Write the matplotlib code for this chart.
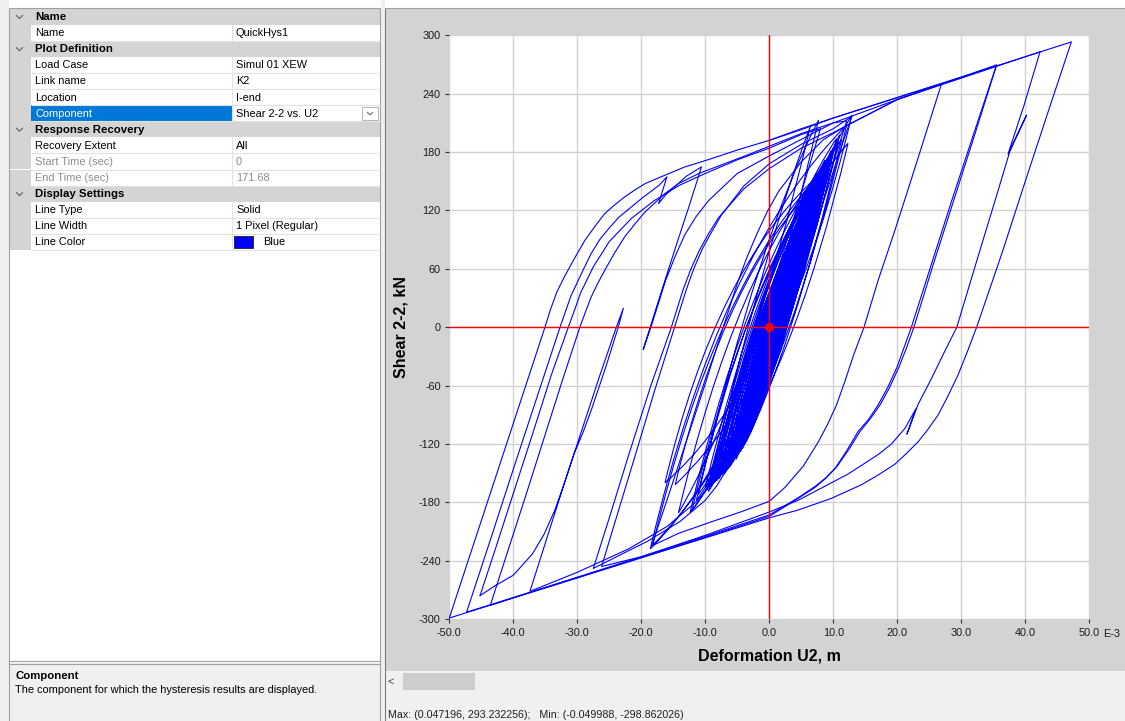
import matplotlib
matplotlib.use("Agg")
import matplotlib.pyplot as plt
from matplotlib.patches import Rectangle, PathPatch
from matplotlib.path import Path

plt.rcParams["font.family"] = ["Liberation Sans", "DejaVu Sans"]

W, H = 1125, 721

# ---- property grid (left panel) ----
prop_rows = [
    ("cat", "Name", ""),
    ("item", "Name", "QuickHys1"),
    ("cat", "Plot Definition", ""),
    ("item", "Load Case", "Simul 01 XEW"),
    ("item", "Link name", "K2"),
    ("item", "Location", "I-end"),
    ("sel", "Component", "Shear 2-2 vs. U2"),
    ("cat", "Response Recovery", ""),
    ("item", "Recovery Extent", "All"),
    ("off", "Start Time (sec)", "0"),
    ("off", "End Time (sec)", "171.68"),
    ("cat", "Display Settings", ""),
    ("item", "Line Type", "Solid"),
    ("item", "Line Width", "1 Pixel (Regular)"),
    ("item", "Line Color", "Blue"),
]
help_title = "Component"
help_text = "The component for which the hysteresis results are displayed."
status_text = "Max: (0.047196, 293.232256);   Min: (-0.049988, -298.862026)"

# ---- axes ----
x_ticks = [-50, -40, -30, -20, -10, 0, 10, 20, 30, 40, 50]
x_tick_labels = ["-50.0", "-40.0", "-30.0", "-20.0", "-10.0", "0.0",
                 "10.0", "20.0", "30.0", "40.0", "50.0"]
y_ticks = [-300, -240, -180, -120, -60, 0, 60, 120, 180, 240, 300]
x_label = "Deformation U2, m"
y_label = "Shear 2-2, kN"
x_scale_note = "E-3"

# ---- hysteresis path, deformation in 1e-3 m, shear in kN ----
# big excursions, read off the picture branch by branch
seg_a = [(0, 192), (5, 204), (10, 215), (20, 236), (30, 257), (40, 278), (47.2, 293.2),
         (43.5, 220), (40, 150), (36.3, 75), (32.4, 0), (30.9, -26), (29.5, -49),
         (27.9, -71), (26.4, -90), (24.8, -105), (23.3, -117.5), (21.4, -130),
         (19.6, -141), (17, -152), (14.4, -162), (9.7, -176), (4.5, -188), (0, -196),
         (-10, -216.6), (-20, -237), (-30, -257.8), (-40, -278.4), (-50, -299)]
seg_b = [(-50, -299), (-46, -219), (-42, -139), (-38.5, -69), (-35.05, 0), (-34.2, 18),
         (-33.2, 36), (-32, 52), (-30.5, 70), (-28.8, 89.4), (-27.2, 104), (-25.7, 116.8),
         (-24.1, 126), (-22.6, 133.9), (-21, 141), (-19.4, 147.6), (-16.3, 156.2),
         (-13.2, 164.7), (-9, 173.3), (-4.8, 182.5), (0, 192), (5, 203), (10, 215),
         (20, 236), (30, 257), (35.5, 269.5)]
seg_c = [(35.5, 269.5), (32, 200), (28.5, 130), (25.2, 62), (22.2, 0), (21, -22),
         (19.9, -42), (18.5, -62), (17, -80), (15.5, -95), (13.9, -107), (12.1, -127),
         (10.3, -145), (8.7, -156), (7.1, -165), (4.5, -176), (0, -194.5), (-10, -216),
         (-20, -237), (-30, -257.5), (-40, -278), (-47.3, -293)]
seg_d = [(-47.3, -293), (-43.5, -217), (-40, -146), (-36.3, -72), (-32.7, 0), (-31.8, 17),
         (-31, 32), (-29, 60), (-27.8, 76), (-26.5, 90), (-25, 102), (-23.5, 113), (-20, 132),
         (-17.2, 146), (-16, 154.5), (-17.3, 127), (-16.2, 136), (-15, 143), (-13, 155),
         (-10.6, 164.7), (-12.5, 125), (-14.5, 85), (-16.6, 42), (-18.6, 0), (-19.7, -23),
         (-18.4, 2), (-16.2, 48), (-14.7, 73), (-13.2, 95), (-11.4, 114), (-9.5, 130),
         (-5, 158), (0, 176), (5, 193), (10, 210), (20, 234), (26.9, 250)]
seg_e = [(26.9, 250), (24.5, 200), (22, 148), (19.5, 97), (17, 48), (14.8, 0), (13.1, -30),
         (11.8, -56), (10.5, -80), (9.1, -100), (7.7, -117.5), (5.3, -143), (2.4, -165),
         (0, -179), (-4.5, -190), (-9, -200), (-14.2, -212), (-18.4, -225), (-16, -178),
         (-13, -118), (-10, -58), (-7.2, 0), (-5, 45), (-3.6, 70), (-2, 95), (-0.3, 119),
         (1.5, 140), (5, 170), (8.5, 193), (12, 207), (20, 234), (35.5, 269)]
seg_f = [(35.5, 269), (32.2, 200), (28.8, 130), (25.5, 62), (22.6, 0), (21.4, -22),
         (20.2, -42), (18.8, -62), (17.3, -80), (15.8, -94), (14.2, -107), (12.4, -126),
         (10.6, -143), (9, -154), (7.3, -163), (4.6, -175), (0, -193), (-10, -215),
         (-20, -236), (-26.2, -246), (-24, -198), (-21, -133), (-18, -67), (-14.8, 0),
         (-13, 38), (-11.8, 60), (-10.5, 80), (-9, 98), (-7.5, 115), (-4, 145), (0, 168),
         (5, 188), (10, 204), (12.9, 216.8)]
seg_g = [(12.9, 216.8), (11.5, 190), (9, 140), (6.5, 90), (4, 40), (2.1, 0), (-0.5, -55),
         (-3.5, -105), (-5, -127), (-6.5, -145), (-8.2, -163), (-10, -178), (-14, -200),
         (-19, -220), (-27.5, -248), (-25, -196), (-22, -132), (-18.5, -60), (-15.3, 0),
         (-13.5, 38), (-12.3, 59), (-11, 78), (-9.5, 96), (-8, 112), (-4, 142), (0, 163),
         (5, 184), (10, 200), (20, 234), (30, 256), (42.3, 283)]
seg_h = [(42.3, 283), (39.8, 228), (37.3, 178), (40.2, 218), (37.6, 181), (35.5, 135),
         (32.5, 70), (29.3, 0), (27.4, -25), (25.4, -52), (23.2, -80), (21.5, -110),
         (22.9, -84), (21.2, -104), (19.1, -120), (17, -131), (14.9, -140), (12.3, -151),
         (9.7, -160), (4.5, -178), (0, -190), (-10, -214), (-20, -236), (-30, -257),
         (-40, -278), (-43.6, -286)]
seg_i = [(-43.6, -286), (-40.8, -229), (-37.8, -168), (-35, -110), (-32.2, -52),
         (-29.6, 0), (-28.7, 16), (-27.8, 31.5), (-26.8, 45), (-25.7, 58.6), (-24.2, 76),
         (-22.6, 92.8), (-21, 106), (-19.4, 118.5), (-16.3, 137.3), (-14.2, 147.6),
         (-11, 158), (-7, 168), (-3, 178), (0, 186), (5, 199), (10, 210), (12.1, 212),
         (10.8, 185), (8.5, 140), (6, 90), (3.5, 40), (1.5, 0), (-1, -50), (-4, -100),
         (-5.7, -124), (-7.5, -145), (-9.5, -164), (-11.5, -180), (-16, -205),
         (-22, -228), (-30, -252), (-37.4, -271.6), (-35, -222), (-32, -160), (-29, -100),
         (-26.5, -50), (-23.9, 0), (-22.8, 19.5), (-23.6, 0), (-25.5, -40), (-27.8, -85),
         (-29.1, -108), (-30.5, -130), (-32, -160), (-33.5, -188), (-35.2, -213),
         (-37, -233), (-40, -255), (-42.9, -266), (-45.2, -276)]
seg_j = [(-45.2, -276), (-42.8, -228), (-40, -171), (-37, -110), (-34, -48), (-31.4, 0),
         (-30.4, 18), (-29.5, 35), (-27.5, 62), (-25, 88), (-21.5, 112), (-18, 130),
         (-14, 146), (-10, 158), (-5, 172), (0, 184), (5, 198), (8, 204), (6, 160),
         (3.5, 105), (1, 52), (-1.5, 0), (-4, -55), (-6, -105), (-7.6, -150)]

# dense central band: turning points of the small cycles (lower, upper, lower, ...)
core_tips = [
    (-7.6, -150), (6.5, 128), (-5.4, -135), (8.2, 154), (-6.4, -145), (5, 105),
    (-2.5, -95), (9.2, 161), (-7.4, -152), (7, 135), (-4.5, -128), (9.7, 182),
    (-8.5, -159), (4.2, 92), (-6, -142), (8.7, 172), (-9.5, -169), (10.5, 194),
    (-3, -110), (6, 120), (-11.1, -172), (7.7, 213), (-7, -150), (7.5, 145),
    (-12.1, -189), (12.3, 189), (-9.5, -165), (6.4, 206), (-14.2, -191), (9, 168),
    (-8, -156), (5.5, 118), (-16.3, -160), (8, 158), (-4, -120), (11, 198),
    (-6.8, -147), (6.8, 132), (-10, -165), (9.5, 176), (-2, -85), (5.3, 110),
    (-5.8, -140), (7.2, 140), (-9, -162), (10.2, 185), (-4.8, -130), (4.8, 98),
    (-7.8, -155), (8.5, 165), (-3.4, -112), (6.2, 125), (-6.2, -144), (12.9, 218),
    (-14.7, -162), (7.9, 150), (-5.2, -136), (9.9, 180), (-8.8, -160), (5.8, 118),
    (-18.6, -228), (12.1, 208), (-7.2, -148), (8.4, 160), (-12.4, -191), (11.3, 193),
    (-4.2, -125), (7.4, 150), (-6.6, -146), (9.1, 172), (-3.6, -118), (6.6, 138),
    (-8.2, -158), (8.9, 168), (-5, -132), (10.8, 190), (-18.2, -224), (8.6, 162),
    (-6.9, -150), (7.6, 148), (-2.8, -105), (5.9, 128), (-9.8, -168), (9.4, 175),
    (-4.6, -128), (8, 156), (-7.9, -156), (6.9, 140), (-5.6, -138), (9.6, 178),
    (-11.4, -178), (7.3, 146), (-3.9, -120), (8.3, 160), (-6.5, -146), (10, 184),
    (-8.6, -160), (6.1, 122), (-4.4, -126), (7.8, 152), (-7.3, -151), (9.3, 170),
    (-5.3, -134), (6.7, 130), (-9.2, -164), (8.1, 158), (-3.2, -112), (5.6, 118),
    (0, 0),
]
segments = [seg_a, seg_b, seg_c, seg_d, seg_e, seg_f, seg_g, seg_h, seg_i, seg_j]
current_point = (0, 0)

# stiffness used only to bend the small-cycle branches (line style)
K_INIT = 28.0

# ---------------------------------------------------------------
fig = plt.figure(figsize=(W / 100, H / 100), dpi=100)
fig.patch.set_facecolor("white")

# full-figure layer in pixel coordinates for the window chrome
ui = fig.add_axes([0, 0, 1, 1], zorder=0)
ui.set_xlim(0, W)
ui.set_ylim(H, 0)
ui.axis("off")


def box(x0, y0, x1, y1, fc, ec="none", lw=0.0, z=1):
    ui.add_patch(Rectangle((x0, y0), x1 - x0, y1 - y0, facecolor=fc,
                           edgecolor=ec, linewidth=lw, zorder=z))


def hline(x0, x1, y, c, lw=0.8, z=2):
    ui.plot([x0, x1], [y, y], color=c, lw=lw, zorder=z, solid_capstyle="butt")


def vline(x, y0, y1, c, lw=0.8, z=2):
    ui.plot([x, x], [y0, y1], color=c, lw=lw, zorder=z, solid_capstyle="butt")


def chevron(cx, cy, c="#606060", s=3.0):
    ui.plot([cx - s, cx, cx + s], [cy - s / 2, cy + s / 2, cy - s / 2],
            color=c, lw=0.8, zorder=4)


# left panel
box(0, 0, 9, H, "#f0f0f0")
vline(8.5, 8, H, "#a0a0a0")
box(9, 8, 380, 662, "white")
grey = "#d4d4d4"
row_h = 16.1
top = 8.5
for i, (kind, label, value) in enumerate(prop_rows):
    y0 = top + row_h * i
    y1 = y0 + row_h
    yc = (y0 + y1) / 2 + 0.5
    if kind == "cat":
        box(9, y0, 380, y1, grey)
        chevron(19.5, yc)
        ui.text(35, yc, label, fontsize=8.2, fontweight="bold", color="black",
                va="center", ha="left", zorder=5)
        continue
    box(9, y0, 31, y1, grey)
    lab_bg = "#0078d7" if kind == "sel" else "white"
    box(31, y0, 232, y1, lab_bg)
    box(232, y0, 380, y1, "white")
    hline(31, 380, y1, "#e2e2e2", lw=0.8, z=3)
    vline(232, y0, y1, "#e2e2e2", lw=0.8, z=3)
    if kind == "sel":
        c_lab, c_val = "white", "black"
    elif kind == "off":
        c_lab, c_val = "#8d8d8d", "#8d8d8d"
    else:
        c_lab, c_val = "black", "black"
    ui.text(35, yc, label, fontsize=7.9, color=c_lab, va="center", ha="left", zorder=5)
    vx = 236
    if label == "Line Color":
        box(234, y0 + 2.5, 253, y1 - 2.5, "#0000ff", ec="#202020", lw=0.6, z=4)
        vx = 263
    ui.text(vx, yc, value, fontsize=7.9, color=c_val, va="center", ha="left", zorder=5)
    if kind == "sel":
        box(362, y0 + 1.5, 378, y1 - 1.0, "white", ec="#b4b4b4", lw=0.7, z=4)
        chevron(370, yc, c="#707070", s=2.5)

vline(380, 8, H, "#a0a0a0")
hline(9, 380, 8.3, "#a0a0a0")
box(380.5, 0, 385, H, "#f0f0f0")

# help box
hline(9, 380, 661, "#a0a0a0")
box(9, 663, 380, H, "#f0f0f0")
hline(9, 380, 664, "#a0a0a0")
ui.text(15, 676, help_title, fontsize=8.2, fontweight="bold", va="center", ha="left", zorder=5)
ui.text(15, 690, help_text, fontsize=7.9, va="center", ha="left", zorder=5)

# chart panel
box(385, 8, W, 671, "#d3d3d3")
box(385, 671, W, H, "#f0f0f0")
box(403, 673, 475, 690, "#cdcdcd")
ui.text(391, 681.5, "<", fontsize=8, color="#404040", va="center", ha="center", zorder=5)
vline(385, 8, H, "#7a7a7a")
hline(385, W, 8, "#a0a0a0")
ui.text(388, 715, status_text, fontsize=7.7, color="#202020", va="center", ha="left", zorder=5)

ui.text(769, 656, x_label, fontsize=11.5, fontweight="bold", va="center", ha="center", zorder=5)
ui.text(401, 327, y_label, fontsize=11.5, fontweight="bold", va="center", ha="center",
        rotation=90, zorder=5)
ui.text(1103, 634, x_scale_note, fontsize=7.8, color="#1a1a1a", va="center", ha="left", zorder=5)

# hysteresis plot
ax = fig.add_axes([449.3 / W, 1 - 619 / H, 640 / W, 583.7 / H], zorder=2)
ax.set_facecolor("white")
for s in ax.spines.values():
    s.set_visible(False)
ax.set_xlim(-50, 50)
ax.set_ylim(-300, 300)
ax.set_xticks(x_ticks)
ax.set_xticklabels(x_tick_labels)
ax.set_yticks(y_ticks)
ax.set_yticklabels([str(v) for v in y_ticks])
ax.tick_params(direction="out", length=3, width=0.8, color="#303030",
               labelsize=7.8, labelcolor="#1a1a1a", pad=3.2)
ax.set_axisbelow(True)
ax.grid(True, color="#d2d2d2", lw=1.0)

for seg in segments:
    xs, ys = zip(*seg)
    ax.plot(xs, ys, color="#0000ff", lw=0.8, zorder=3)

# small cycles: each branch is a quadratic curve that leaves the turning
# point at the elastic slope and softens towards the next one
verts = [core_tips[0]]
codes = [Path.MOVETO]
for (x0, y0), (x1, y1) in zip(core_tips[:-1], core_tips[1:]):
    dy = y1 - y0
    cdx = 0.7 * dy / K_INIT
    if abs(cdx) > 0.85 * abs(x1 - x0):
        cdx = 0.85 * (x1 - x0)
    verts += [(x0 + cdx, y0 + 0.7 * dy), (x1, y1)]
    codes += [Path.CURVE3, Path.CURVE3]
ax.add_patch(PathPatch(Path(verts, codes), facecolor="none", edgecolor="#0000ff",
                       lw=0.8, zorder=3))

ax.axhline(0, color="#ff0000", lw=1.0, zorder=4)
ax.axvline(0, color="#ff0000", lw=1.0, zorder=4)
ax.plot([current_point[0]], [current_point[1]], "o", color="#ff0000", ms=5.5, zorder=5)

fig.savefig("out.png", dpi=100)
